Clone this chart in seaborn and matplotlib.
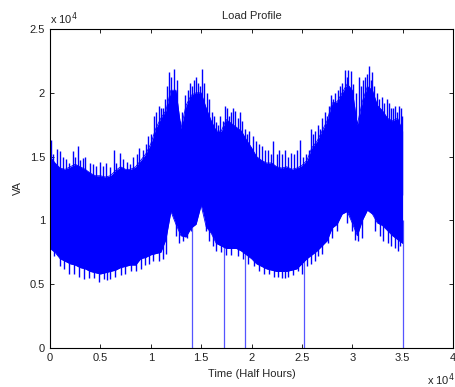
import numpy as np
import pandas as pd
import matplotlib
matplotlib.use("Agg")
import matplotlib.pyplot as plt
import seaborn as sns

# ---- data (values in units of 1e4) ----
# envelope sample times (x 1e4 half hours), step 0.05
env_t = [round(0.05 * i, 2) for i in range(71)]
upper_body = [1.50, 1.45, 1.41, 1.40, 1.42, 1.44, 1.42, 1.40, 1.37, 1.35,
              1.35, 1.34, 1.35, 1.39, 1.42, 1.40, 1.40, 1.42, 1.47, 1.52,
              1.60, 1.72, 1.80, 1.86, 2.02, 2.02, 1.72, 1.90, 1.98, 2.00,
              2.00, 1.88, 1.78, 1.70, 1.70, 1.79, 1.76, 1.73, 1.70, 1.63,
              1.57, 1.50, 1.47, 1.45, 1.45, 1.42, 1.41, 1.42, 1.40, 1.41,
              1.43, 1.47, 1.57, 1.62, 1.70, 1.78, 1.92, 1.93, 2.00, 2.07,
              2.02, 1.75, 1.93, 2.05, 2.02, 1.90, 1.86, 1.80, 1.78, 1.80,
              1.70]
lower_body = [0.78, 0.75, 0.70, 0.68, 0.66, 0.65, 0.63, 0.62, 0.60, 0.59,
              0.58, 0.59, 0.60, 0.61, 0.63, 0.64, 0.65, 0.65, 0.70, 0.71,
              0.73, 0.74, 0.75, 0.85, 1.07, 0.97, 0.88, 0.87, 0.94, 0.97,
              1.12, 0.95, 0.90, 0.82, 0.80, 0.78, 0.78, 0.78, 0.76, 0.73,
              0.70, 0.66, 0.64, 0.62, 0.61, 0.60, 0.60, 0.60, 0.61, 0.62,
              0.66, 0.70, 0.73, 0.76, 0.80, 0.84, 0.94, 0.97, 1.05, 1.07,
              0.98, 0.88, 1.00, 1.08, 1.05, 0.98, 0.96, 0.92, 0.88, 0.85,
              0.82]

# individual peaks above the band
peak_t = [0.007, 0.03, 0.066, 0.096, 0.13, 0.16, 0.19, 0.224, 0.25, 0.273,
          0.30, 0.33, 0.352, 0.40, 0.43, 0.46, 0.50, 0.53, 0.56, 0.60,
          0.638, 0.66, 0.697, 0.72, 0.76, 0.79, 0.825, 0.86, 0.885, 0.92,
          0.95, 0.973, 1.00, 1.03, 1.05, 1.08, 1.10, 1.12, 1.14, 1.16,
          1.18, 1.20, 1.23, 1.26, 1.29, 1.31, 1.34, 1.37, 1.39, 1.41,
          1.43, 1.45, 1.47, 1.49, 1.51, 1.53, 1.56, 1.58, 1.61, 1.63,
          1.65, 1.67, 1.69, 1.72, 1.74, 1.76, 1.78, 1.80, 1.82, 1.84,
          1.87, 1.89, 1.91, 1.94, 1.96, 1.98, 2.01, 2.04, 2.07, 2.10,
          2.13, 2.16, 2.19, 2.21, 2.25, 2.27, 2.30, 2.33, 2.36, 2.39,
          2.42, 2.45, 2.48, 2.51, 2.54, 2.57, 2.59, 2.61, 2.63, 2.66,
          2.68, 2.70, 2.73, 2.75, 2.77, 2.79, 2.81, 2.83, 2.86, 2.88,
          2.90, 2.93, 2.95, 2.96, 2.99, 3.01, 3.04, 3.07, 3.09, 3.11,
          3.13, 3.15, 3.17, 3.19, 3.20, 3.22, 3.25, 3.27, 3.30, 3.32,
          3.34, 3.36, 3.38, 3.40, 3.42, 3.44, 3.46, 3.48, 3.49]
peak_v = [1.63, 1.52, 1.56, 1.54, 1.50, 1.48, 1.45, 1.54, 1.50, 1.58,
          1.47, 1.49, 1.50, 1.45, 1.44, 1.43, 1.46, 1.43, 1.45, 1.42,
          1.55, 1.45, 1.53, 1.48, 1.46, 1.44, 1.50, 1.52, 1.57, 1.55,
          1.60, 1.66, 1.68, 1.82, 1.85, 1.90, 1.88, 1.88, 1.95, 2.05,
          2.16, 2.12, 2.19, 2.10, 1.78, 1.85, 1.98, 2.02, 2.08, 2.05,
          2.10, 2.12, 2.08, 2.05, 2.19, 2.08, 2.00, 1.95, 1.85, 1.82,
          1.77, 1.75, 1.82, 1.78, 1.90, 1.88, 1.82, 1.85, 1.88, 1.86,
          1.80, 1.85, 1.78, 1.72, 1.68, 1.70, 1.66, 1.62, 1.60, 1.58,
          1.55, 1.55, 1.52, 1.62, 1.52, 1.55, 1.52, 1.55, 1.50, 1.53,
          1.52, 1.55, 1.63, 1.50, 1.52, 1.55, 1.72, 1.68, 1.70, 1.75,
          1.72, 1.80, 1.85, 1.82, 1.90, 1.98, 1.95, 2.00, 2.02, 2.05,
          2.08, 2.18, 2.12, 2.18, 2.17, 2.07, 2.00, 2.12, 2.05, 2.10,
          2.12, 2.15, 2.21, 2.10, 2.16, 2.05, 2.00, 1.95, 1.97, 1.92,
          1.95, 1.92, 1.88, 1.88, 1.90, 1.85, 1.90, 1.88, 1.82]

# individual troughs below the band
trough_t = [0.04, 0.10, 0.14, 0.19, 0.24, 0.29, 0.34, 0.39, 0.44, 0.49,
            0.54, 0.57, 0.60, 0.65, 0.70, 0.74, 0.80, 0.85, 0.90, 0.94,
            0.98, 1.02, 1.08, 1.12, 1.15, 1.25, 1.28, 1.32, 1.36, 1.40,
            1.55, 1.58, 1.62, 1.65, 1.70, 1.75, 1.80, 1.87, 1.92, 1.97,
            2.02, 2.07, 2.12, 2.17, 2.22, 2.26, 2.30, 2.33, 2.36, 2.41,
            2.46, 2.50, 2.55, 2.59, 2.63, 2.66, 2.70, 2.76, 2.80, 2.85,
            2.95, 3.00, 3.03, 3.06, 3.10, 3.23, 3.28, 3.31, 3.35, 3.38,
            3.42, 3.45, 3.47]
trough_v = [0.72, 0.64, 0.62, 0.58, 0.58, 0.56, 0.54, 0.55, 0.55, 0.52,
            0.54, 0.53, 0.54, 0.56, 0.57, 0.58, 0.60, 0.60, 0.62, 0.65,
            0.66, 0.68, 0.68, 0.70, 0.74, 0.88, 0.82, 0.84, 0.86, 0.92,
            0.92, 0.84, 0.80, 0.76, 0.75, 0.73, 0.73, 0.72, 0.70, 0.66,
            0.64, 0.60, 0.58, 0.58, 0.56, 0.56, 0.55, 0.55, 0.56, 0.57,
            0.60, 0.58, 0.64, 0.66, 0.68, 0.72, 0.74, 0.82, 0.86, 0.92,
            0.98, 0.92, 0.85, 0.84, 0.86, 0.92, 0.88, 0.84, 0.82, 0.80,
            0.78, 0.76, 0.80]

# samples that drop to zero
drop_t = [1.405, 1.728, 1.932, 2.520, 3.504]

xticks = [0, 0.5, 1, 1.5, 2, 2.5, 3, 3.5, 4]
xtick_labels = ["0", "0.5", "1", "1.5", "2", "2.5", "3", "3.5", "4"]
yticks = [0, 0.5, 1, 1.5, 2, 2.5]
ytick_labels = ["0", "0.5", "1", "1.5", "2", "2.5"]

# ---- plot ----
sns.set_style("ticks")
plt.rcParams["font.family"] = ["Liberation Sans", "DejaVu Sans"]
FS = 8

fig = plt.figure(figsize=(4.55, 3.87), dpi=100)
ax = fig.add_axes([50 / 455, 39 / 387, 403 / 455, 319 / 387])

blue = "#0000ff"
env = pd.DataFrame({"t": env_t, "upper": upper_body, "lower": lower_body})

# spikes underneath, solid band on top
ax.vlines(peak_t, 1.2, peak_v, color=blue, lw=1.0, zorder=2)
ax.vlines(trough_t, trough_v, 1.15, color=blue, lw=1.0, zorder=2)
ax.vlines(drop_t, 0, 1.0, color="#5555ff", lw=0.9, zorder=2)

ax.fill_between(env["t"], env["lower"], env["upper"], color=blue, lw=0,
                zorder=3)
sns.lineplot(data=env, x="t", y="upper", ax=ax, color=blue, lw=0.6, zorder=3)
sns.lineplot(data=env, x="t", y="lower", ax=ax, color=blue, lw=0.6, zorder=3)

ax.set_xlim(0, 4)
ax.set_ylim(0, 2.5)
ax.set_xticks(xticks)
ax.set_xticklabels(xtick_labels)
ax.set_yticks(yticks)
ax.set_yticklabels(ytick_labels)
ax.tick_params(direction="in", length=3, width=0.6, labelsize=FS,
               top=True, right=True, colors="black", labelcolor="#222222",
               pad=3.5)
for s in ax.spines.values():
    s.set_visible(True)
    s.set_linewidth(0.8)
    s.set_color("black")
    s.set_zorder(5)

ax.set_xlabel("Time (Half Hours)", fontsize=FS, labelpad=4.5)
ax.set_ylabel("VA", fontsize=FS, labelpad=5)
ax.set_title("Load Profile", fontsize=FS, pad=7.5)

ax.text(0.0, 1.018, r"x 10$^4$", transform=ax.transAxes, fontsize=FS,
        ha="left", va="baseline", color="#222222")
ax.text(0.935, -0.115, r"x 10$^4$", transform=ax.transAxes, fontsize=FS,
        ha="left", va="baseline", color="#222222")

fig.savefig("out.png", dpi=100, facecolor="white")
